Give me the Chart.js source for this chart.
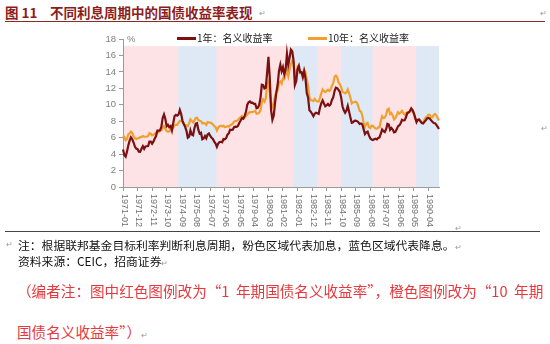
<!DOCTYPE html>
<html>
<head>
<meta charset="utf-8">
<script src="https://cdn.jsdelivr.net/npm/chart.js@4.4.0/dist/chart.umd.min.js"></script>
<style>
  body { margin: 0; width: 550px; height: 344px; background: #fff; position: relative; overflow: hidden;
         font-family: "Noto Sans CJK SC", sans-serif; }
  .abs { position: absolute; white-space: nowrap; }
  #title { left: 5px; top: 3px; color: #8b1d1d; font-weight: bold; font-size: 13.5px; line-height: 18px; }
  #title .txt { position: absolute; left: 45px; }
  #titleLine { left: 5px; top: 21px; width: 540px; height: 1px; background: #8b2a2a; }
  #chartBox { left: 0; top: 0; width: 550px; height: 234px; }
  .leg { font-size: 10px; color: #222; top: 31px; line-height: 14px; }
  .leg i { display: inline-block; width: 19px; height: 2.5px; vertical-align: middle; margin-right: 1px; position: relative; top: -1px; }
  #pct { left: 127px; top: 33px; font: 9.5px "Liberation Sans", sans-serif; color: #7f7f7f; }
  #sep { left: 5px; top: 231px; width: 535px; height: 1px; background: #444; }
  .note { font-size: 11.8px; color: #111; left: 18px; line-height: 16px; }
  .red { font-size: 14.6px; color: #e8383d; left: 17px; line-height: 20px; }
  .mark { color: #999; font-size: 8px; }
</style>
</head>
<body>
<div id="title" class="abs"><span>图&nbsp;11</span><span class="txt">不同利息周期中的国债收益率表现</span></div>
<div class="abs mark" style="left:259px;top:7px">↵</div>
<div class="abs mark" style="left:540px;top:7px">↵</div>
<div id="titleLine" class="abs"></div>
<div id="chartBox" class="abs"><canvas id="chart" width="550" height="234"></canvas></div>
<div id="pct" class="abs">%</div>
<div class="abs leg" id="leg1" style="left:177px"><i style="background:#7a1010"></i>1年：名义收益率</div>
<div class="abs leg" id="leg2" style="left:308px"><i style="background:#f0a030"></i>10年：名义收益率</div>
<div class="abs mark" style="left:541px;top:122px">↵</div>
<div class="abs mark" style="left:455px;top:222px">↵</div>
<div id="sep" class="abs"></div>
<div class="abs mark" style="left:6px;top:238px">↵</div>
<div class="abs note" style="top:237px">注：根据联邦基金目标利率判断利息周期，粉色区域代表加息，蓝色区域代表降息。<span class="mark">↵</span></div>
<div class="abs note" style="top:253px">资料来源：CEIC，招商证券<span class="mark">↵</span></div>
<div class="abs red" style="top:281px">（编者注：图中红色图例改为“1&nbsp;&nbsp;年期国债名义收益率”，橙色图例改为“10&nbsp;&nbsp;年期</div>
<div class="abs red" style="top:322px">国债名义收益率”）<span class="mark">↵</span></div>

<script>
// monthly categories, 1971-01 .. 1990-12
const startYear = 1971;
const endYear = 1990;
const months = [];
for (let y = startYear; y <= endYear; y++) {
    for (let m = 1; m <= 12; m++) {
        months.push(y + '-' + String(m).padStart(2, '0'));
    }
}

// 1-year nominal yield, %
const yield1y = [
    4.57, 3.89, 3.69, 4.30, 5.04, 5.64, 6.04, 5.80, 5.41, 4.91, 4.67, 4.60,
    4.28, 4.27, 4.67, 4.96, 4.64, 4.93, 4.96, 4.98, 5.52, 5.52, 5.27, 5.52,
    5.89, 6.19, 6.85, 6.85, 6.89, 7.31, 8.39, 8.82, 8.31, 7.40, 7.57, 7.27,
    7.42, 6.88, 7.76, 8.62, 8.78, 8.67, 8.80, 9.36, 8.87, 8.05, 7.66, 7.31,
    6.83, 5.98, 6.11, 6.90, 6.39, 6.29, 7.11, 7.70, 7.75, 6.95, 6.49, 6.60,
    5.81, 5.91, 6.21, 5.92, 6.40, 6.52, 6.20, 6.00, 5.84, 5.50, 5.29, 4.89,
    5.29, 5.47, 5.50, 5.44, 5.84, 5.80, 5.94, 6.37, 6.53, 6.97, 6.95, 6.96,
    7.28, 7.34, 7.31, 7.45, 7.82, 8.09, 8.39, 8.31, 8.64, 9.14, 10.01, 10.30,
    10.41, 10.24, 10.25, 10.12, 10.12, 9.57, 9.64, 9.98, 10.84, 12.44, 12.39, 11.98,
    12.06, 13.92, 15.82, 13.30, 9.39, 8.16, 8.65, 10.24, 11.52, 12.49, 14.15, 14.88,
    14.08, 14.57, 13.71, 14.32, 16.20, 14.86, 15.72, 16.72, 16.52, 15.38, 12.41, 12.85,
    14.32, 14.73, 13.95, 13.98, 13.34, 14.07, 13.24, 11.43, 10.85, 9.32, 9.16, 8.91,
    8.62, 8.92, 9.04, 8.98, 8.90, 9.66, 10.20, 10.53, 10.16, 9.81, 9.94, 10.11,
    9.90, 10.04, 10.59, 10.90, 11.66, 12.08, 12.03, 11.82, 11.58, 10.90, 9.82, 9.33,
    9.02, 9.29, 9.86, 9.14, 8.46, 7.80, 7.86, 8.05, 8.07, 8.01, 7.88, 7.67,
    7.73, 7.61, 7.03, 6.44, 6.65, 6.73, 6.27, 5.93, 5.77, 5.72, 5.80, 5.87,
    5.78, 5.96, 6.03, 6.50, 7.00, 6.80, 6.68, 7.03, 7.67, 7.59, 6.96, 7.17,
    6.99, 6.64, 6.71, 7.01, 7.40, 7.49, 7.75, 8.17, 8.09, 8.11, 8.48, 8.99,
    9.05, 9.25, 9.57, 9.36, 8.98, 8.44, 7.89, 8.18, 8.22, 7.99, 7.77, 7.72,
    7.92, 8.11, 8.35, 8.40, 8.32, 8.10, 7.94, 7.78, 7.76, 7.55, 7.31, 7.05
];

// 10-year nominal yield, %
const yield10y = [
    6.24, 6.11, 5.70, 5.83, 6.39, 6.52, 6.73, 6.58, 6.14, 5.93, 5.81, 5.93,
    5.95, 6.08, 6.07, 6.19, 6.13, 6.11, 6.11, 6.21, 6.55, 6.48, 6.28, 6.36,
    6.46, 6.64, 6.71, 6.67, 6.85, 6.90, 7.13, 7.40, 7.09, 6.79, 6.73, 6.74,
    6.99, 6.96, 7.21, 7.51, 7.58, 7.54, 7.81, 8.04, 8.04, 7.90, 7.68, 7.43,
    7.50, 7.39, 7.73, 8.23, 8.06, 7.86, 8.06, 8.40, 8.43, 8.14, 8.05, 8.00,
    7.74, 7.79, 7.73, 7.56, 7.90, 7.86, 7.83, 7.77, 7.59, 7.41, 7.29, 6.87,
    7.21, 7.39, 7.46, 7.37, 7.46, 7.28, 7.33, 7.40, 7.34, 7.52, 7.58, 7.69,
    7.96, 8.03, 8.04, 8.15, 8.35, 8.46, 8.64, 8.41, 8.42, 8.64, 8.81, 9.01,
    9.10, 9.10, 9.12, 9.18, 9.25, 8.91, 8.95, 9.03, 9.33, 10.30, 10.65, 10.39,
    10.80, 12.41, 12.75, 11.47, 10.18, 9.78, 10.25, 11.10, 11.51, 11.75, 12.68, 12.84,
    12.57, 13.19, 13.12, 13.68, 14.10, 13.47, 14.28, 14.94, 15.32, 15.15, 13.39, 13.72,
    14.59, 14.43, 13.86, 13.87, 13.62, 14.30, 13.95, 13.06, 12.34, 10.91, 10.55, 10.54,
    10.46, 10.72, 10.51, 10.40, 10.38, 10.85, 11.38, 11.85, 11.65, 11.54, 11.69, 11.83,
    11.67, 11.84, 12.32, 12.63, 13.41, 13.56, 13.36, 12.72, 12.52, 12.16, 11.57, 11.50,
    11.38, 11.51, 11.86, 11.43, 10.85, 10.16, 10.31, 10.33, 10.37, 10.24, 9.78, 9.26,
    9.19, 8.70, 7.78, 7.30, 7.71, 7.80, 7.30, 7.17, 7.45, 7.43, 7.25, 7.11,
    7.08, 7.25, 7.25, 8.02, 8.61, 8.40, 8.45, 8.76, 9.42, 9.52, 8.86, 8.99,
    8.67, 8.21, 8.37, 8.72, 9.09, 8.92, 9.06, 9.26, 8.98, 8.80, 8.96, 9.11,
    9.09, 9.17, 9.36, 9.18, 8.86, 8.28, 8.02, 8.11, 8.19, 8.01, 7.87, 7.84,
    8.21, 8.47, 8.59, 8.79, 8.76, 8.48, 8.47, 8.75, 8.89, 8.72, 8.39, 8.08
];

// rate cycles (first month, last month)
const hikePeriods = [['1971-03', '1974-06'], ['1977-01', '1981-09'], ['1983-05', '1984-09'], ['1986-11', '1989-06']];
const cutPeriods = [['1974-07', '1976-12'], ['1981-10', '1983-04'], ['1984-10', '1986-10'], ['1989-07', '1990-12']];
const shadeTop = 17;

const yTicks = [0, 2, 4, 6, 8, 10, 12, 14, 16, 18];
const labelEvery = 11;

function shade(periods) {
    return months.map(m => periods.some(p => m >= p[0] && m <= p[1]) ? shadeTop : null);
}

// x labels read top-to-bottom (rotated clockwise)
const rotatedLabels = {
    id: 'rotatedLabels',
    afterDraw(chart) {
        const s = chart.scales.x;
        const ctx = chart.ctx;
        ctx.save();
        ctx.font = '9px "Liberation Sans"';
        ctx.fillStyle = '#6e6e6e';
        ctx.textAlign = 'left';
        ctx.textBaseline = 'middle';
        s.ticks.forEach((t, i) => {
            ctx.save();
            ctx.translate(s.getPixelForTick(i) + 1, s.top + 7);
            ctx.rotate(Math.PI / 2);
            ctx.fillText(t.label, 0, 0);
            ctx.restore();
        });
        ctx.restore();
    }
};

const ctx = document.getElementById('chart').getContext('2d');
new Chart(ctx, {
    type: 'line',
    data: {
        labels: months,
        datasets: [
            { type: 'bar', label: 'hike', data: shade(hikePeriods), backgroundColor: '#fde3e6',
              barPercentage: 1, categoryPercentage: 1, borderWidth: 0, inflateAmount: 1, order: 2 },
            { type: 'bar', label: 'cut', data: shade(cutPeriods), backgroundColor: '#dfe9f5',
              barPercentage: 1, categoryPercentage: 1, borderWidth: 0, inflateAmount: 1, order: 2 },
            { label: '1年：名义收益率', data: yield1y, borderColor: '#7a1010', borderWidth: 2.2,
              pointRadius: 0, tension: 0, fill: false, order: 0 },
            { label: '10年：名义收益率', data: yield10y, borderColor: '#f0a030', borderWidth: 2.2,
              pointRadius: 0, tension: 0, fill: false, order: 1 }
        ]
    },
    options: {
        responsive: false,
        animation: false,
        layout: { padding: { left: 100, right: 111, top: 39, bottom: 0 } },
        plugins: { legend: { display: false }, tooltip: { enabled: false } },
        scales: {
            x: {
                offset: false,
                grid: { display: true, drawOnChartArea: false, drawTicks: true, tickLength: 4, color: '#9a9a9a', offset: false },
                border: { color: '#9a9a9a' },
                ticks: { autoSkip: false, minRotation: 90, maxRotation: 90, color: 'rgba(0,0,0,0)', font: { size: 9 } },
                afterBuildTicks: s => { s.ticks = s.ticks.filter(t => t.value % labelEvery === 0); },
                afterFit: s => { s.height = 47; }
            },
            y: {
                min: 0,
                max: 18,
                afterBuildTicks: s => { s.ticks = yTicks.map(v => ({ value: v })); },
                grid: { display: true, drawOnChartArea: false, drawTicks: true, tickLength: 4, color: '#9a9a9a' },
                border: { color: '#9a9a9a' },
                ticks: { color: '#7f7f7f', padding: 3, font: { family: 'Liberation Sans', size: 9.5 } },
                afterFit: s => { s.width = 23; }
            }
        }
    },
    plugins: [rotatedLabels]
});
</script>
</body>
</html>
